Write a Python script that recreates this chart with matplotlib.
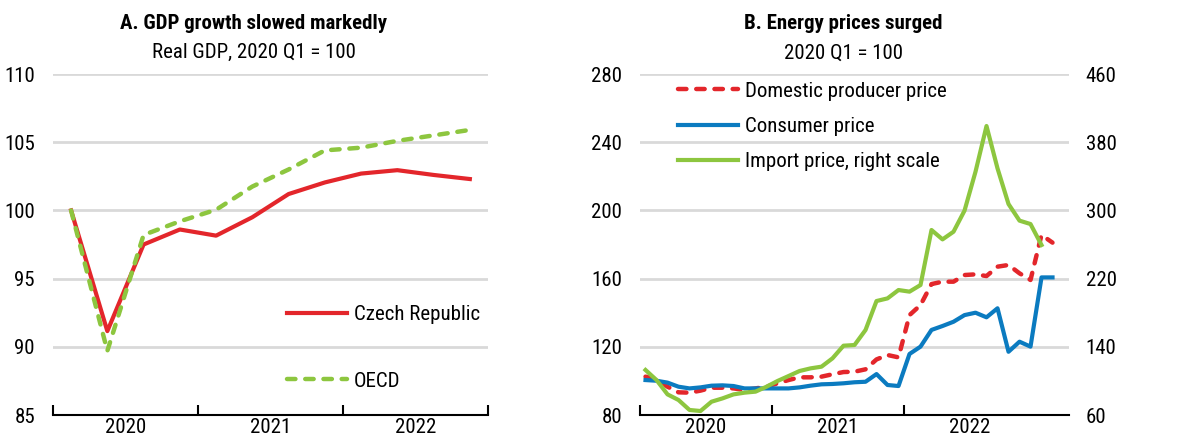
import matplotlib
matplotlib.use('Agg')
import matplotlib.pyplot as plt
import numpy as np

#Fonte estreita (parecida com Arial Narrow):
plt.rcParams['font.family'] = ['Roboto Condensed', 'Liberation Sans', 'DejaVu Sans']

red = '#e3262b'
blue = '#0b7bc0'
green = '#8dc63f'
grid_c = '#d9d9d9'

#Painel A: PIB real trimestral, 2020 Q1 - 2022 Q4
years = ['2020', '2021', '2022']
gdp_czech = [100, 91.15, 97.5, 98.6, 98.15, 99.5, 101.2, 102.05, 102.7, 102.95, 102.6, 102.3]
gdp_oecd = [100, 89.7, 98.2, 99.2, 100.05, 101.75, 103.0, 104.4, 104.6, 105.1, 105.5, 105.9]

#Painel B: precos de energia mensais, jan 2020 - fev 2023
ppi = [102.5, 101, 96.6, 93.3, 93.1, 94.3, 96, 96, 95.6, 94.7, 95.6, 96.6,
       98.6, 100.5, 102.1, 102.1, 102.5, 103.9, 105.2, 105.4, 106.8, 112.6, 115.2, 113.8,
       138.6, 144.5, 156.8, 158.2, 158.2, 162.1, 162.5, 161.5, 167, 168, 163.1, 159.2,
       185.6, 181.1]
cpi = [100.5, 100.1, 99, 96.6, 95.6, 96.2, 97.2, 97.4, 97, 95.6, 95.6, 95.6,
       95.6, 95.6, 96.2, 97.2, 98, 98.2, 98.6, 99.2, 99.5, 104, 97.6, 97,
       115.8, 120.1, 129.9, 132.2, 134.7, 138.6, 140, 137.3, 142.6, 117.1, 123, 120.1,
       160.7, 160.7]
imp = [112.8, 101, 84.2, 77.6, 65.9, 64.7, 75.6, 79.5, 84.2, 86.2, 87.4, 93.2,
       99.9, 105.7, 111.6, 114.7, 116.7, 126.5, 141.3, 142.1, 159.7, 193.7, 196.8, 206.6,
       204.7, 212.5, 277, 266, 275, 299.7, 345.4, 399, 349.3, 307.5, 288, 284,
       259.4]

fs = 15
dash = (0, (1.9, 2.2))
fig = plt.figure(figsize=(12.01, 4.40), dpi=100)

def style_axis(ax, n_per_year, n_total, end_tick):
    for s in ['top', 'right', 'left']:
        ax.spines[s].set_visible(False)
    ax.spines['bottom'].set_linewidth(1.5)
    ax.yaxis.grid(True, color=grid_c, linewidth=2)
    ax.set_axisbelow(True)
    ax.tick_params(axis='y', length=0, labelsize=fs, pad=13)
    major = [-0.5 + n_per_year*i for i in range(len(years))]
    if end_tick:
        major.append(-0.5 + n_per_year*len(years))
    ax.set_xticks(major)
    ax.set_xticklabels([])
    ax.set_xticks([-0.5 + n_per_year*(i + 0.5) for i in range(len(years))], minor=True)
    ax.set_xticklabels(years, minor=True)
    ax.tick_params(axis='x', which='major', direction='in', length=7, width=1.5)
    ax.tick_params(axis='x', which='minor', length=0, labelsize=fs, pad=2)
    ax.set_xlim(-0.5, n_total - 0.5)

#Painel A
ax1 = fig.add_axes([0.0441, 0.0568, 0.3622, 0.775])
xq = np.arange(len(gdp_czech))
ax1.plot(xq, gdp_czech, color=red, linewidth=3, label='Czech Republic')
ax1.plot(xq, gdp_oecd, color=green, linewidth=3.2, linestyle=dash, dash_capstyle='round',
         label='OECD')
ax1.set_ylim(85, 110)
ax1.set_yticks([85, 90, 95, 100, 105, 110])
style_axis(ax1, 4, 12, True)
ax1.legend(loc='center left', bbox_to_anchor=(0.538, 0.197), frameon=False, fontsize=fs,
           handlelength=2.9, labelspacing=2.3, handletextpad=0.3, borderpad=0, borderaxespad=0)
fig.text(0.2115, 0.9477, 'A. GDP growth slowed markedly', ha='center', va='center',
         fontsize=fs, fontweight='bold')
fig.text(0.2115, 0.88, 'Real GDP, 2020 Q1 = 100', ha='center', va='center', fontsize=fs)

#Painel B
ax2 = fig.add_axes([0.5329, 0.0568, 0.3572, 0.775])
ax3 = ax2.twinx()
xm = np.arange(len(ppi))
l1, = ax2.plot(xm, ppi, color=red, linewidth=3.2, linestyle=dash, dash_capstyle='round',
               label='Domestic producer price')
l2, = ax2.plot(xm, cpi, color=blue, linewidth=3, label='Consumer price')
l3, = ax3.plot(np.arange(len(imp)), imp, color=green, linewidth=3, label='Import price, right scale')
ax2.set_ylim(80, 280)
ax2.set_yticks(np.arange(80, 281, 40))
ax3.set_ylim(60, 460)
ax3.set_yticks(np.arange(60, 461, 80))
style_axis(ax2, 12, 39, False)
for s in ['top', 'right', 'left', 'bottom']:
    ax3.spines[s].set_visible(False)
ax3.tick_params(axis='y', length=0, labelsize=fs, pad=12)
ax2.legend(handles=[l1, l2, l3], loc='center left', bbox_to_anchor=(0.0886, 0.846), frameon=False,
           fontsize=fs, handlelength=2.9, labelspacing=0.78, handletextpad=0.3,
           borderpad=0, borderaxespad=0)
fig.text(0.7025, 0.9477, 'B. Energy prices surged', ha='center', va='center',
         fontsize=fs, fontweight='bold')
fig.text(0.7025, 0.88, '2020 Q1 = 100', ha='center', va='center', fontsize=fs)

fig.savefig('out.png', dpi=100)
